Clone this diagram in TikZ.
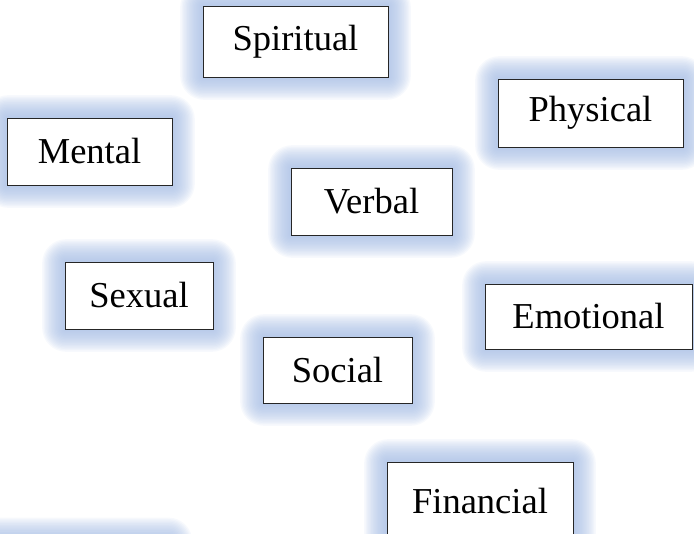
\documentclass[tikz,border=0pt]{standalone}
\usepackage{fontspec}
\setmainfont{Liberation Serif}
\usetikzlibrary{backgrounds}
\definecolor{glowc}{RGB}{165,188,228}
\tikzset{
  x=1pt, y=-1pt,
  wbox/.style={draw=black!85, line width=0.9pt, fill=white, inner sep=0pt,
    font=\fontsize{36.5}{40}\selectfont},
}
\begin{document}
\begin{tikzpicture}
\useasboundingbox (0,0) rectangle (694,534);
\node[wbox, minimum width=185pt, minimum height=71pt] (spiritual) at (295.5,41.5) {\raisebox{-2pt}{Spiritual}};
\node[wbox, minimum width=165pt, minimum height=67pt] (mental) at (89.5,151.5) {\raisebox{-2pt}{Mental}};
\node[wbox, minimum width=185pt, minimum height=68pt] (physical) at (590.5,113) {\raisebox{-2pt}{Physical}};
\node[wbox, minimum width=161pt, minimum height=67pt] (verbal) at (371.5,201.5) {\raisebox{-2pt}{Verbal}};
\node[wbox, minimum width=148pt, minimum height=67pt] (sexual) at (139,295.5) {\raisebox{-2pt}{Sexual}};
\node[wbox, minimum width=207pt, minimum height=65pt] (emotional) at (588.5,316.5) {\raisebox{-2pt}{Emotional}};
\node[wbox, minimum width=149pt, minimum height=66pt] (social) at (337.5,370) {\raisebox{-2pt}{Social}};
\node[wbox, minimum width=186pt, minimum height=78pt] (financial) at (480,501) {\raisebox{-2pt}{Financial}};
\begin{scope}[on background layer]
  \clip (0,0) rectangle (694,534);
  \foreach \n in {spiritual,mental,physical,verbal,sexual,emotional,social,financial}{
    \foreach \i in {1,...,16}{
      \fill[glowc, opacity=0.085, rounded corners=1.5*\i pt]
        ([shift={(-1.4*\i pt,-1.4*\i pt)}]\n.south west) rectangle
        ([shift={(1.4*\i pt,1.4*\i pt)}]\n.north east);
    }
  }
  \foreach \i in {1,...,16}{
    \fill[glowc, opacity=0.085, rounded corners=1.5*\i pt]
      (-40-1.4*\i,540-1.4*\i) rectangle (170+1.4*\i,600+1.4*\i);
  }
\end{scope}
\end{tikzpicture}
\end{document}
